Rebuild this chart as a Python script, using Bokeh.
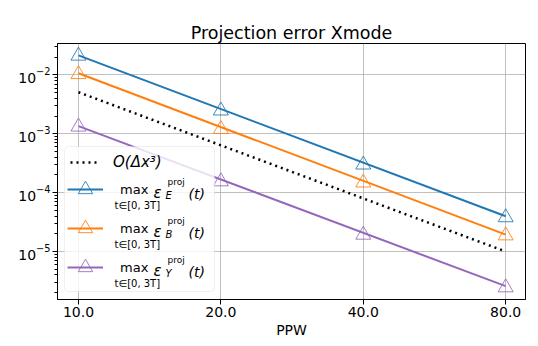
from bokeh.plotting import figure
from bokeh.models import (FixedTicker, Legend, LegendItem, Label, BoxAnnotation, Range1d,
                          LogTickFormatter)
from bokeh.embed import file_html
from bokeh.resources import INLINE

# ---------------- data ----------------
ppw = [10, 20, 40, 80]
x_tick_labels = ["10.0", "20.0", "40.0", "80.0"]

err_E = [2.12e-2, 2.48e-3, 2.99e-4, 3.8e-5]
err_B = [1.03e-2, 1.2e-3, 1.48e-4, 1.87e-5]
err_Y = [1.32e-3, 1.55e-4, 1.92e-5, 2.45e-6]

fit_ppw = [10, 80]
fit_E = [2.15e-2, 3.98e-5]
fit_B = [1.07e-2, 1.94e-5]
fit_Y = [1.35e-3, 2.58e-6]
ref_dx3 = [5.1e-3, 1.0e-5]

y_ticks = [1e-5, 1e-4, 1e-3, 1e-2]
y_minor = [m * 10.0 ** e for e in range(-6, -1) for m in range(2, 10)]

title_text = "Projection error Xmode"
x_label = "PPW"
ref_label = "O(\u0394x\u00b3)"
sub_labels = ["E", "B", "Y"]

C_E, C_B, C_Y = "#1f77b4", "#ff7f0e", "#9467bd"
FONT = "DejaVu Sans"

p = figure(x_axis_type="log", y_axis_type="log",
           x_range=Range1d(9.03, 88.1), y_range=Range1d(1.53e-6, 3.43e-2),
           frame_width=468, frame_height=256,
           min_border_left=57, min_border_right=5, min_border_top=43, min_border_bottom=30,
           output_backend="svg", toolbar_location=None, title=title_text)

p.title.text_font = FONT
p.title.text_font_size = "17.5px"
p.title.text_font_style = "normal"
p.title.align = "center"
p.title.text_color = "black"
p.title.standoff = 1

p.outline_line_color = "black"
p.outline_line_width = 1
p.background_fill_color = "white"

for g in (p.xgrid, p.ygrid):
    g.grid_line_color = "#b0b0b0"
    g.grid_line_width = 0.8

p.xaxis.ticker = FixedTicker(ticks=ppw, minor_ticks=[])
p.xaxis.major_label_overrides = dict(zip(ppw, x_tick_labels))
p.yaxis.ticker = FixedTicker(ticks=y_ticks, minor_ticks=y_minor)
p.yaxis.formatter = LogTickFormatter()
p.xaxis.axis_label = x_label

for ax in (p.xaxis, p.yaxis):
    ax.axis_line_color = "black"
    ax.major_tick_in = 0
    ax.major_tick_out = 5
    ax.minor_tick_in = 0
    ax.minor_tick_out = 3
    ax.major_tick_line_color = "black"
    ax.minor_tick_line_color = "black"
    ax.major_label_text_font = FONT
    ax.major_label_text_font_size = "14px"
    ax.major_label_text_color = "black"
    ax.major_label_standoff = 2
    ax.axis_label_text_font = FONT
    ax.axis_label_text_font_size = "14px"
    ax.axis_label_text_font_style = "normal"
    ax.axis_label_text_color = "black"
    ax.axis_label_standoff = 2

# ---------------- glyphs ----------------
r_ref = p.line(fit_ppw, ref_dx3, line_color="black", line_width=2.5, line_dash="2 4")

rend = []
for fit, err, col in ((fit_E, err_E, C_E), (fit_B, err_B, C_B), (fit_Y, err_Y, C_Y)):
    rl = p.line(fit_ppw, fit, line_color=col, line_width=2)
    rm = p.scatter(ppw, err, marker="triangle", size=15, fill_color=None,
                   line_color=col, line_width=1, line_alpha=0.85)
    rend.append((rl, rm))

# ---------------- legend ----------------
box = BoxAnnotation(left=7, right=157, bottom=8, top=153,
                    left_units="screen", right_units="screen",
                    top_units="screen", bottom_units="screen",
                    fill_color="white", fill_alpha=0.8,
                    line_color="#cccccc", line_width=1, border_radius=4)
p.add_layout(box)

legA = Legend(items=[LegendItem(label=ref_label, renderers=[r_ref])],
              location=(13, 127), margin=0, padding=0, spacing=0,
              glyph_width=28, glyph_height=20, label_height=20, label_standoff=15,
              border_line_alpha=0, background_fill_alpha=0,
              label_text_font=FONT, label_text_font_size="15px",
              label_text_font_style="italic", label_text_color="black")
p.add_layout(legA)

legB = Legend(items=[LegendItem(label="max", renderers=[rl, rm]) for rl, rm in rend],
              location=(10, 13), margin=0, padding=0, spacing=1,
              glyph_width=36, glyph_height=38, label_height=38, label_standoff=17,
              border_line_alpha=0, background_fill_alpha=0,
              label_text_font=FONT, label_text_font_size="13px",
              label_text_color="black")
p.add_layout(legB)

row_centers = [189, 228, 267]  # page y of each legend row centre
FRAME_BOTTOM = 299
for y0, sub in zip(row_centers, sub_labels):
    def lab(txt, x, dy, size, style="normal"):
        p.add_layout(Label(x=x, y=FRAME_BOTTOM - (y0 + dy), x_units="screen", y_units="screen",
                           text=txt, text_font=FONT, text_font_size=size,
                           text_font_style=style, text_color="black",
                           text_baseline="alphabetic", text_align="left"))
    lab("\u03b5", 96, 3.7, "15px", "italic")
    lab("proj", 110, -7.7, "9px")
    lab(sub, 108, 6.3, "10px", "italic")
    lab("(t)", 131, 4, "14px", "italic")
    lab("t\u2208[0, 3T]", 57, 16, "10px")

open("out.html", "w").write(file_html(p, INLINE))
